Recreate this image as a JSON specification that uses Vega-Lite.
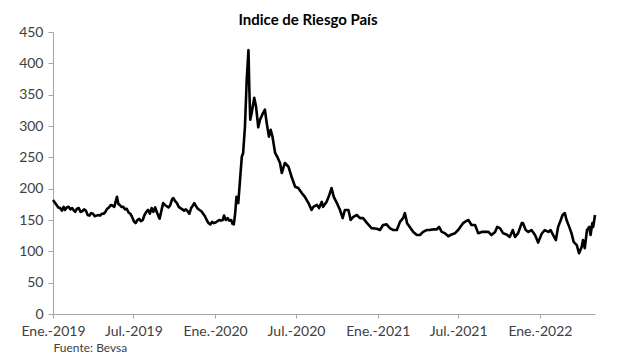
{
  "$schema": "https://vega.github.io/schema/vega-lite/v6.json",
  "width": 542,
  "height": 282,
  "autosize": {"type": "none"},
  "padding": {"left": 53, "top": 32, "right": 22, "bottom": 44},
  "background": "white",
  "title": {"text": "Indice de Riesgo País", "font": "Lato", "fontSize": 15, "fontWeight": "bold", "color": "#000000", "anchor": "middle", "dx": -16, "offset": -3},
  "config": {"view": {"stroke": null}, "font": "Lato"},
  "data": {"values": [
    {"fecha": "2019-01-01", "indice": 182}, {"fecha": "2019-01-05", "indice": 178}, {"fecha": "2019-01-09", "indice": 174}, {"fecha": "2019-01-13", "indice": 170},
    {"fecha": "2019-01-17", "indice": 169}, {"fecha": "2019-01-21", "indice": 165}, {"fecha": "2019-01-25", "indice": 171}, {"fecha": "2019-01-28", "indice": 166},
    {"fecha": "2019-02-01", "indice": 170}, {"fecha": "2019-02-05", "indice": 171}, {"fecha": "2019-02-09", "indice": 167}, {"fecha": "2019-02-13", "indice": 169},
    {"fecha": "2019-02-17", "indice": 165}, {"fecha": "2019-02-20", "indice": 163}, {"fecha": "2019-02-24", "indice": 168}, {"fecha": "2019-02-28", "indice": 169},
    {"fecha": "2019-03-04", "indice": 163}, {"fecha": "2019-03-08", "indice": 164}, {"fecha": "2019-03-12", "indice": 167}, {"fecha": "2019-03-16", "indice": 165},
    {"fecha": "2019-03-20", "indice": 158}, {"fecha": "2019-03-24", "indice": 157}, {"fecha": "2019-03-28", "indice": 161}, {"fecha": "2019-04-01", "indice": 160},
    {"fecha": "2019-04-05", "indice": 156}, {"fecha": "2019-04-09", "indice": 157}, {"fecha": "2019-04-13", "indice": 158}, {"fecha": "2019-04-17", "indice": 157},
    {"fecha": "2019-04-21", "indice": 160}, {"fecha": "2019-04-25", "indice": 160}, {"fecha": "2019-04-29", "indice": 163}, {"fecha": "2019-05-03", "indice": 168},
    {"fecha": "2019-05-07", "indice": 170}, {"fecha": "2019-05-11", "indice": 174}, {"fecha": "2019-05-15", "indice": 173}, {"fecha": "2019-05-19", "indice": 171},
    {"fecha": "2019-05-23", "indice": 182}, {"fecha": "2019-05-25", "indice": 187}, {"fecha": "2019-05-28", "indice": 176}, {"fecha": "2019-05-31", "indice": 174},
    {"fecha": "2019-06-04", "indice": 171}, {"fecha": "2019-06-08", "indice": 171}, {"fecha": "2019-06-12", "indice": 167}, {"fecha": "2019-06-16", "indice": 168},
    {"fecha": "2019-06-20", "indice": 162}, {"fecha": "2019-06-24", "indice": 160}, {"fecha": "2019-06-28", "indice": 155}, {"fecha": "2019-07-02", "indice": 148},
    {"fecha": "2019-07-06", "indice": 145}, {"fecha": "2019-07-10", "indice": 150}, {"fecha": "2019-07-14", "indice": 152}, {"fecha": "2019-07-18", "indice": 148},
    {"fecha": "2019-07-22", "indice": 150}, {"fecha": "2019-07-26", "indice": 158}, {"fecha": "2019-07-30", "indice": 163}, {"fecha": "2019-08-03", "indice": 166},
    {"fecha": "2019-08-07", "indice": 160}, {"fecha": "2019-08-11", "indice": 169}, {"fecha": "2019-08-15", "indice": 163}, {"fecha": "2019-08-19", "indice": 170},
    {"fecha": "2019-08-23", "indice": 162}, {"fecha": "2019-08-27", "indice": 155}, {"fecha": "2019-08-29", "indice": 152}, {"fecha": "2019-09-02", "indice": 165},
    {"fecha": "2019-09-06", "indice": 177}, {"fecha": "2019-09-10", "indice": 174}, {"fecha": "2019-09-14", "indice": 172}, {"fecha": "2019-09-18", "indice": 170},
    {"fecha": "2019-09-22", "indice": 174}, {"fecha": "2019-09-26", "indice": 183}, {"fecha": "2019-09-29", "indice": 185}, {"fecha": "2019-10-03", "indice": 180},
    {"fecha": "2019-10-07", "indice": 177}, {"fecha": "2019-10-11", "indice": 171}, {"fecha": "2019-10-15", "indice": 169}, {"fecha": "2019-10-19", "indice": 167},
    {"fecha": "2019-10-23", "indice": 165}, {"fecha": "2019-10-27", "indice": 167}, {"fecha": "2019-10-31", "indice": 164}, {"fecha": "2019-11-04", "indice": 160},
    {"fecha": "2019-11-08", "indice": 169}, {"fecha": "2019-11-12", "indice": 173}, {"fecha": "2019-11-15", "indice": 177}, {"fecha": "2019-11-19", "indice": 172},
    {"fecha": "2019-11-23", "indice": 168}, {"fecha": "2019-11-27", "indice": 166}, {"fecha": "2019-12-01", "indice": 164}, {"fecha": "2019-12-05", "indice": 160},
    {"fecha": "2019-12-09", "indice": 156}, {"fecha": "2019-12-13", "indice": 150}, {"fecha": "2019-12-17", "indice": 145}, {"fecha": "2019-12-21", "indice": 143},
    {"fecha": "2019-12-25", "indice": 147}, {"fecha": "2019-12-29", "indice": 145}, {"fecha": "2020-01-02", "indice": 146}, {"fecha": "2020-01-06", "indice": 148},
    {"fecha": "2020-01-10", "indice": 150}, {"fecha": "2020-01-14", "indice": 149}, {"fecha": "2020-01-18", "indice": 150}, {"fecha": "2020-01-21", "indice": 157},
    {"fecha": "2020-01-25", "indice": 150}, {"fecha": "2020-01-29", "indice": 153}, {"fecha": "2020-02-02", "indice": 149}, {"fecha": "2020-02-06", "indice": 150},
    {"fecha": "2020-02-09", "indice": 144}, {"fecha": "2020-02-12", "indice": 143}, {"fecha": "2020-02-15", "indice": 160}, {"fecha": "2020-02-18", "indice": 187},
    {"fecha": "2020-02-22", "indice": 177}, {"fecha": "2020-02-26", "indice": 214}, {"fecha": "2020-03-01", "indice": 251}, {"fecha": "2020-03-04", "indice": 257},
    {"fecha": "2020-03-08", "indice": 298}, {"fecha": "2020-03-12", "indice": 373}, {"fecha": "2020-03-16", "indice": 421}, {"fecha": "2020-03-18", "indice": 357},
    {"fecha": "2020-03-20", "indice": 310}, {"fecha": "2020-03-23", "indice": 320}, {"fecha": "2020-03-29", "indice": 345}, {"fecha": "2020-04-02", "indice": 331},
    {"fecha": "2020-04-07", "indice": 298}, {"fecha": "2020-04-11", "indice": 310}, {"fecha": "2020-04-16", "indice": 318}, {"fecha": "2020-04-22", "indice": 326},
    {"fecha": "2020-04-26", "indice": 305}, {"fecha": "2020-05-01", "indice": 283}, {"fecha": "2020-05-05", "indice": 294}, {"fecha": "2020-05-09", "indice": 283},
    {"fecha": "2020-05-15", "indice": 257}, {"fecha": "2020-05-21", "indice": 249}, {"fecha": "2020-05-26", "indice": 241}, {"fecha": "2020-05-30", "indice": 225},
    {"fecha": "2020-06-02", "indice": 232}, {"fecha": "2020-06-06", "indice": 241}, {"fecha": "2020-06-14", "indice": 235}, {"fecha": "2020-06-21", "indice": 219},
    {"fecha": "2020-06-29", "indice": 203}, {"fecha": "2020-07-06", "indice": 201}, {"fecha": "2020-07-14", "indice": 193}, {"fecha": "2020-07-21", "indice": 187},
    {"fecha": "2020-07-29", "indice": 177}, {"fecha": "2020-08-05", "indice": 166}, {"fecha": "2020-08-09", "indice": 171}, {"fecha": "2020-08-17", "indice": 174},
    {"fecha": "2020-08-22", "indice": 169}, {"fecha": "2020-08-28", "indice": 179}, {"fecha": "2020-08-31", "indice": 171}, {"fecha": "2020-09-08", "indice": 179},
    {"fecha": "2020-09-14", "indice": 190}, {"fecha": "2020-09-19", "indice": 201}, {"fecha": "2020-09-24", "indice": 187}, {"fecha": "2020-10-01", "indice": 177},
    {"fecha": "2020-10-08", "indice": 166}, {"fecha": "2020-10-14", "indice": 153}, {"fecha": "2020-10-19", "indice": 166}, {"fecha": "2020-10-27", "indice": 166},
    {"fecha": "2020-11-01", "indice": 150}, {"fecha": "2020-11-07", "indice": 155}, {"fecha": "2020-11-15", "indice": 158}, {"fecha": "2020-11-22", "indice": 153},
    {"fecha": "2020-11-29", "indice": 153}, {"fecha": "2020-12-08", "indice": 145}, {"fecha": "2020-12-18", "indice": 137}, {"fecha": "2020-12-30", "indice": 136},
    {"fecha": "2021-01-06", "indice": 134}, {"fecha": "2021-01-13", "indice": 142}, {"fecha": "2021-01-21", "indice": 143}, {"fecha": "2021-01-28", "indice": 137},
    {"fecha": "2021-02-05", "indice": 134}, {"fecha": "2021-02-13", "indice": 134}, {"fecha": "2021-02-20", "indice": 147}, {"fecha": "2021-02-27", "indice": 153},
    {"fecha": "2021-03-03", "indice": 161}, {"fecha": "2021-03-08", "indice": 145}, {"fecha": "2021-03-14", "indice": 139}, {"fecha": "2021-03-22", "indice": 131},
    {"fecha": "2021-03-30", "indice": 126}, {"fecha": "2021-04-06", "indice": 126}, {"fecha": "2021-04-13", "indice": 131}, {"fecha": "2021-04-21", "indice": 134},
    {"fecha": "2021-04-28", "indice": 134}, {"fecha": "2021-05-06", "indice": 135}, {"fecha": "2021-05-14", "indice": 135}, {"fecha": "2021-05-19", "indice": 139},
    {"fecha": "2021-05-25", "indice": 131}, {"fecha": "2021-06-01", "indice": 129}, {"fecha": "2021-06-09", "indice": 124}, {"fecha": "2021-06-16", "indice": 127},
    {"fecha": "2021-06-24", "indice": 129}, {"fecha": "2021-07-01", "indice": 134}, {"fecha": "2021-07-09", "indice": 142}, {"fecha": "2021-07-12", "indice": 145},
    {"fecha": "2021-07-16", "indice": 147}, {"fecha": "2021-07-24", "indice": 150}, {"fecha": "2021-07-31", "indice": 142}, {"fecha": "2021-08-08", "indice": 142},
    {"fecha": "2021-08-15", "indice": 129}, {"fecha": "2021-08-23", "indice": 131}, {"fecha": "2021-08-30", "indice": 131}, {"fecha": "2021-09-07", "indice": 131},
    {"fecha": "2021-09-14", "indice": 126}, {"fecha": "2021-09-22", "indice": 131}, {"fecha": "2021-09-27", "indice": 139}, {"fecha": "2021-10-03", "indice": 137},
    {"fecha": "2021-10-10", "indice": 129}, {"fecha": "2021-10-18", "indice": 127}, {"fecha": "2021-10-25", "indice": 123}, {"fecha": "2021-11-01", "indice": 134},
    {"fecha": "2021-11-06", "indice": 123}, {"fecha": "2021-11-13", "indice": 129}, {"fecha": "2021-11-21", "indice": 145}, {"fecha": "2021-11-24", "indice": 145},
    {"fecha": "2021-11-30", "indice": 134}, {"fecha": "2021-12-06", "indice": 131}, {"fecha": "2021-12-13", "indice": 134}, {"fecha": "2021-12-21", "indice": 126},
    {"fecha": "2021-12-28", "indice": 114}, {"fecha": "2022-01-05", "indice": 128}, {"fecha": "2022-01-12", "indice": 134}, {"fecha": "2022-01-20", "indice": 131},
    {"fecha": "2022-01-25", "indice": 134}, {"fecha": "2022-01-31", "indice": 126}, {"fecha": "2022-02-06", "indice": 118}, {"fecha": "2022-02-11", "indice": 139},
    {"fecha": "2022-02-17", "indice": 150}, {"fecha": "2022-02-21", "indice": 158}, {"fecha": "2022-02-26", "indice": 161}, {"fecha": "2022-03-02", "indice": 150},
    {"fecha": "2022-03-08", "indice": 139}, {"fecha": "2022-03-13", "indice": 129}, {"fecha": "2022-03-18", "indice": 115}, {"fecha": "2022-03-25", "indice": 110},
    {"fecha": "2022-03-30", "indice": 97}, {"fecha": "2022-04-05", "indice": 107}, {"fecha": "2022-04-08", "indice": 118}, {"fecha": "2022-04-12", "indice": 105},
    {"fecha": "2022-04-17", "indice": 134}, {"fecha": "2022-04-22", "indice": 139}, {"fecha": "2022-04-25", "indice": 126}, {"fecha": "2022-04-29", "indice": 145},
    {"fecha": "2022-05-01", "indice": 139}, {"fecha": "2022-05-05", "indice": 158}
  ]},
  "mark": {"type": "line", "color": "#000000", "strokeWidth": 2.6, "strokeJoin": "round"},
  "encoding": {
    "x": {
      "field": "fecha", "type": "temporal",
      "scale": {"type": "utc", "domain": [{"year": 2019, "month": 1, "date": 1, "utc": true}, {"year": 2022, "month": 5, "date": 5, "utc": true}]},
      "axis": {
        "values": [
          {"year": 2019, "month": 1, "date": 1, "utc": true}, {"year": 2019, "month": 7, "date": 1, "utc": true},
          {"year": 2020, "month": 1, "date": 1, "utc": true}, {"year": 2020, "month": 7, "date": 1, "utc": true},
          {"year": 2021, "month": 1, "date": 1, "utc": true}, {"year": 2021, "month": 7, "date": 1, "utc": true},
          {"year": 2022, "month": 1, "date": 1, "utc": true}
        ],
        "labelExpr": "(utcmonth(datum.value) == 0 ? 'Ene.-' : 'Jul.-') + utcyear(datum.value)",
        "labelOverlap": false, "labelFlush": false, "labelBound": false,
        "grid": false, "domainColor": "#a6a6a6", "tickColor": "#a6a6a6", "tickSize": 4,
        "labelFont": "Lato", "labelFontSize": 14, "labelColor": "#404040", "labelPadding": 6,
        "title": "Fuente: Bevsa", "titleAnchor": "start", "titleAlign": "left", "titleFont": "Lato",
        "titleFontSize": 12, "titleFontWeight": "normal", "titleColor": "#404040", "titlePadding": 4
      }
    },
    "y": {
      "field": "indice", "type": "quantitative",
      "scale": {"domain": [0, 450], "nice": false},
      "axis": {
        "values": [0, 50, 100, 150, 200, 250, 300, 350, 400, 450],
        "grid": false, "domainColor": "#a6a6a6", "tickColor": "#a6a6a6", "tickSize": 5,
        "labelFont": "Lato", "labelFontSize": 14, "labelColor": "#404040", "labelPadding": 5,
        "title": null
      }
    }
  }
}
